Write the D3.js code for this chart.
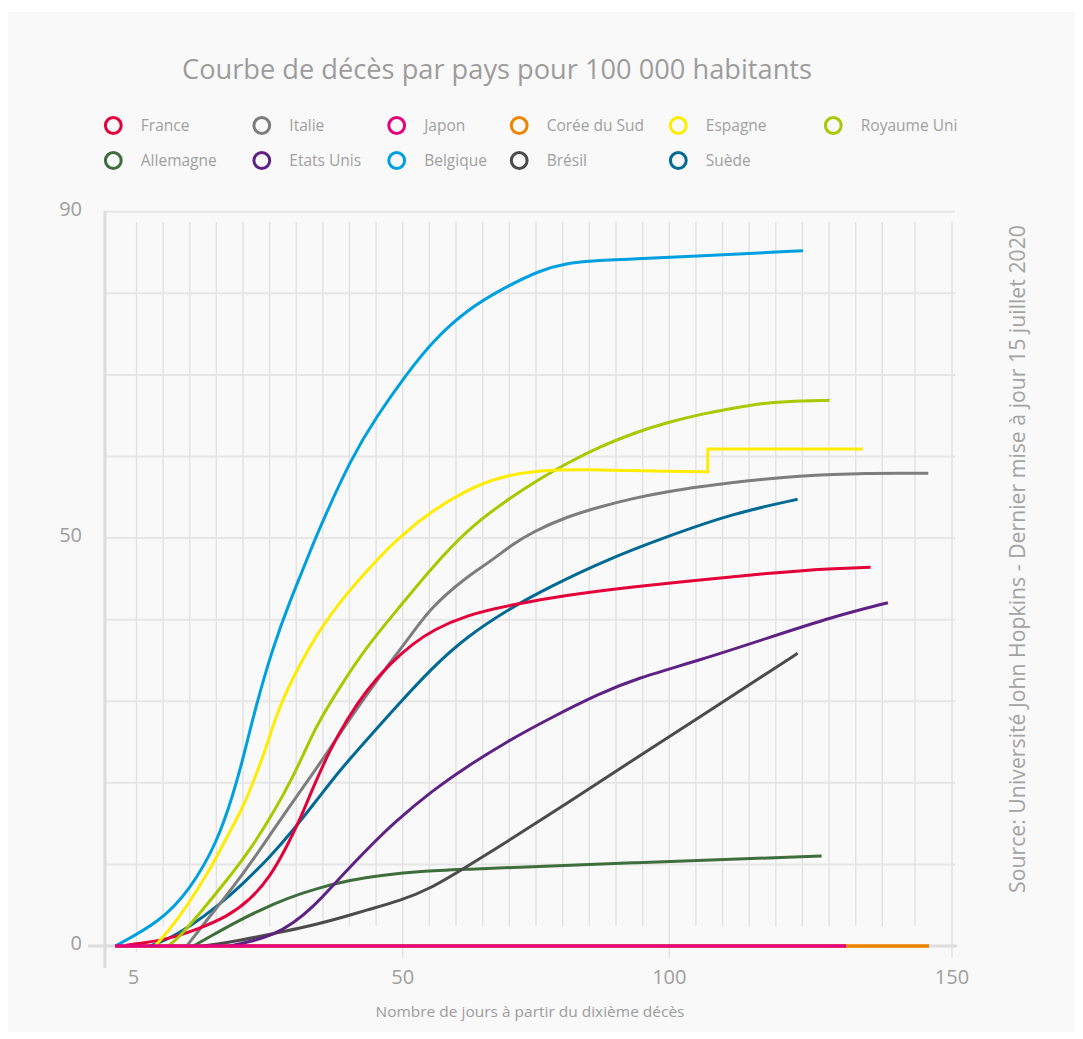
<!DOCTYPE html>
<html>
<head>
<meta charset="utf-8">
<script src="https://cdn.jsdelivr.net/npm/d3@7"></script>
<style>
  html, body { margin: 0; padding: 0; background: #ffffff; }
  svg { display: block; }
  text { font-family: "Open Sans", "Noto Sans", sans-serif; }
</style>
</head>
<body>
<svg id="chart" width="1083" height="1039"></svg>
<script>
// ---------- DATA ----------
const titleText = "Courbe de décès par pays pour 100 000 habitants";
const xAxisTitle = "Nombre de jours à partir du dixième décès";
const sourceText = "Source: Université John Hopkins - Dernier mise à jour 15 juillet 2020";

const countries = ["France", "Italie", "Japon", "Corée du Sud", "Espagne", "Royaume Uni",
                   "Allemagne", "Etats Unis", "Belgique", "Brésil", "Suède"];
const palette = ["#e4003a", "#7d7d7d", "#e5007e", "#f08400", "#ffec00", "#a9c800",
                 "#3e6e3c", "#5e2184", "#00a0e0", "#4b4b4b", "#006a94"];

const xTicks = [5, 50, 100, 150];
const yTicks = [0, 50, 90];
const yGrid = [10, 20, 30, 40, 50, 60, 70, 80, 90];
const xGrid = [5, 9.5, 14, 18.5, 23, 27.5, 32, 36.5, 41, 45.5, 50,
               55, 60, 65, 70, 75, 80, 85, 90, 95, 100,
               105, 110, 115, 120, 125, 130, 135, 140, 144.7, 150];

// [jour, décès pour 100 000 habitants]
const france = [[3.3,0.1],[10.1,0.74],[15.7,2.17],[20.3,3.59],[24.2,5.64],[27.6,8.49],[30.4,12.17],
  [32.6,15.44],[34.9,19.52],[37.7,24.02],[40.5,27.7],[43.9,31.38],[47.9,34.65],[52.0,37.1],
  [55.7,38.73],[62,40.57],[70.1,41.79],[80.8,43.02],[93.2,44.04],[105.8,44.86],[118.3,45.68],
  [130.7,46.29],[137.8,46.42]];
const italie = [[13.5,0],[16.9,3.19],[21.4,7.27],[25.9,11.77],[30.4,16.67],[34.9,21.17],[39.4,26.07],
  [43.3,30.15],[47.3,34.23],[51.4,37.91],[55.1,41.39],[62,45.26],[66.4,47.1],[70.5,49.2],[74.5,50.8],
  [80.8,52.62],[87,53.84],[93.2,54.87],[99.5,55.68],[105.8,56.29],[112,56.83],[118.3,57.27],
  [124.5,57.6],[130.7,57.81],[137,57.94],[142.5,57.96],[146.6,57.94]];
const japon = [[1.4,0],[133.2,0]];
const coree = [[1.4,0],[146.7,0]];
const espagne = [[8.1,0],[10.1,1.56],[13.5,4.82],[17.4,9.31],[20.3,13.4],[23.1,17.07],[25.3,21.17],
  [27.0,24.43],[28.7,28.52],[31.5,33.01],[35.5,38.33],[40.5,43.23],[45.6,47.31],[49.5,50.17],
  [55.7,53.44],[62,55.89],[68.2,57.52],[75.8,58.34],[83.9,58.42],[93.2,58.26],[100,58.18],
  [107.2,58.1],[107.2,58.1],[107.2,58.1],
  [107.25,60.9],[107.25,60.9],[107.25,60.9],[136.3,60.9],[136.3,60.9]];
const royaumeUni = [[10.3,0],[11.8,0.74],[15.7,4.0],[20.3,8.09],[24.2,11.77],[28.1,16.26],[31.5,20.75],
  [34.3,25.25],[36.0,27.7],[39.4,31.78],[43.9,36.68],[49.5,41.59],[55.1,46.08],[62,50.99],
  [69.5,54.66],[75.8,57.32],[80.8,59.16],[87,61.2],[93.2,62.84],[99.5,64.14],[105.8,65.17],
  [112,65.94],[118.3,66.59],[124.5,66.83],[130.1,66.88]];
const allemagne = [[14.6,0],[17.4,1.14],[21.4,2.78],[25.9,4.41],[30.4,5.85],[35.5,7.07],[41.1,8.09],
  [46.7,8.7],[53.2,9.19],[62,9.4],[74.5,9.72],[93.2,10.21],[112,10.63],[128.6,11.03]];
const etatsUnis = [[20.8,0],[24.2,0.53],[28.1,1.35],[31.5,2.78],[34.9,4.82],[38.3,7.48],[41.7,10.14],
  [45.0,12.59],[48.4,15.04],[55.7,19.12],[62,21.98],[69.5,25.04],[77.6,27.91],[87,30.97],
  [93.9,32.81],[105.8,35.05],[118.3,37.71],[130.7,40.36],[140.8,42.08]];
const belgique = [[1.4,0],[9.0,2.98],[14.0,6.86],[18.6,12.59],[21.4,18.71],[23.1,23.2],[25.3,29.75],
  [28.1,36.68],[31.0,42.41],[33.8,47.31],[35.2,50],[41.4,60],[45.6,64.9],[50.6,70],[55.7,74.2],
  [62,77.95],[68.8,80.6],[75.8,82.85],[80.8,83.67],[85.1,83.96],[93.2,84.2],
  [112,84.78],[125.1,85.22]];
const bresil = [[16.3,0],[21.4,0.53],[27.0,1.35],[32.6,2.17],[38.3,3.19],[43.9,4.41],[49.5,5.54],
  [55.1,6.99],[62,9.72],[70.1,12.99],[80.8,17.49],[93.2,22.8],[105.8,28.1],[118.3,33.42],[124.1,35.87]];
const suede = [[7.3,0],[10.1,0.74],[14.0,2.37],[18.6,4.82],[23.1,7.68],[27.6,10.95],[31.5,14.22],
  [35.5,17.89],[39.4,21.57],[43.9,25.25],[48.4,28.93],[55.7,34.23],[62,37.91],[70.1,41.39],
  [77.6,44.04],[88.1,47.31],[99.5,50.17],[112,53.03],[124.1,54.75]];

const seriesByCountry = {
  "France": france, "Italie": italie, "Japon": japon, "Corée du Sud": coree,
  "Espagne": espagne, "Royaume Uni": royaumeUni, "Allemagne": allemagne,
  "Etats Unis": etatsUnis, "Belgique": belgique, "Brésil": bresil, "Suède": suede
};
// drawing order (last on top)
const drawOrder = ["Corée du Sud", "Allemagne", "Brésil", "Etats Unis", "Suède", "Italie",
                   "France", "Royaume Uni", "Espagne", "Belgique", "Japon"];

// ---------- CHART ----------
const svg = d3.select("#chart");
const color = d3.scaleOrdinal().domain(countries).range(palette);

// panel background
svg.append("rect").attr("x", 8).attr("y", 12).attr("width", 1067).attr("height", 1020)
  .attr("fill", "#f9f9f9");

const x = d3.scaleLinear().domain([5, 50, 100, 140, 150]).range([136.5, 402.7, 669.3, 882.3, 952]);
const y = d3.scaleLinear().domain([0, 90]).range([946, 211.7]);

const gGrid = svg.append("g");
// vertical grid
gGrid.selectAll("line.v").data(xGrid).join("line")
  .attr("x1", d => x(d)).attr("x2", d => x(d))
  .attr("y1", 222)
  .attr("y2", d => xTicks.includes(d) ? (d === 5 ? 952 : 958) : 926)
  .attr("stroke", "#e1e1e1").attr("stroke-width", 1.4);
// horizontal grid
gGrid.selectAll("line.h").data(yGrid).join("line")
  .attr("x1", 106).attr("x2", 955)
  .attr("y1", d => y(d)).attr("y2", d => y(d))
  .attr("stroke", "#e6e6e6").attr("stroke-width", 2);

// axes lines
svg.append("line").attr("x1", 105).attr("x2", 105).attr("y1", y(90) - 1).attr("y2", 968)
  .attr("stroke", "#dcdcdc").attr("stroke-width", 3.2);
svg.append("line").attr("x1", 88).attr("x2", 957).attr("y1", y(0)).attr("y2", y(0))
  .attr("stroke", "#dcdcdc").attr("stroke-width", 3.2);

// tick labels
svg.append("g").selectAll("text").data(xTicks).join("text")
  .attr("x", d => x(d) - (d === 5 ? 3 : 0)).attr("y", 984)
  .attr("text-anchor", "middle").attr("font-size", 20).attr("fill", "#9e9e9e")
  .text(d => d);
svg.append("g").selectAll("text").data(yTicks).join("text")
  .attr("x", 82).attr("y", d => y(d) + 4)
  .attr("text-anchor", "end").attr("font-size", 20).attr("fill", "#9e9e9e")
  .text(d => d);

// lines
const line = d3.line().x(d => x(d[0])).y(d => y(d[1])).curve(d3.curveBasis);
svg.append("g").selectAll("path").data(drawOrder).join("path")
  .attr("d", c => line(seriesByCountry[c]))
  .attr("fill", "none")
  .attr("stroke", c => color(c))
  .attr("stroke-width", c => (c === "Japon" || c === "Corée du Sud") ? 3.6 : 3);

// title
svg.append("text").attr("x", 497).attr("y", 79).attr("text-anchor", "middle")
  .attr("font-size", 27).attr("fill", "#9c9c9c")
  .attr("textLength", 630).attr("lengthAdjust", "spacingAndGlyphs")
  .text(titleText);

// legend
const legendCols = [113.3, 261.8, 396.7, 519.2, 678.3, 833.3];
const legendRows = [125.5, 160.5];
const lg = svg.append("g").selectAll("g").data(countries).join("g")
  .attr("transform", (d, i) => `translate(${legendCols[i % 6]},${legendRows[Math.floor(i / 6)]})`);
lg.append("circle").attr("r", 7.9).attr("fill", "none")
  .attr("stroke", d => color(d)).attr("stroke-width", 3);
lg.append("text").attr("x", 27.5).attr("y", 5.5).attr("font-size", 15.5).attr("fill", "#a0a0a0")
  .text(d => d);

// x axis title
svg.append("text").attr("x", 530).attr("y", 1017).attr("text-anchor", "middle")
  .attr("font-size", 14).attr("fill", "#9c9c9c")
  .attr("textLength", 309).attr("lengthAdjust", "spacingAndGlyphs")
  .text(xAxisTitle);

// source (rotated)
svg.append("text").attr("transform", "translate(1025,559) rotate(-90)")
  .attr("text-anchor", "middle").attr("font-size", 21).attr("fill", "#a3a3a3")
  .attr("textLength", 668).attr("lengthAdjust", "spacingAndGlyphs")
  .text(sourceText);
</script>
</body>
</html>
